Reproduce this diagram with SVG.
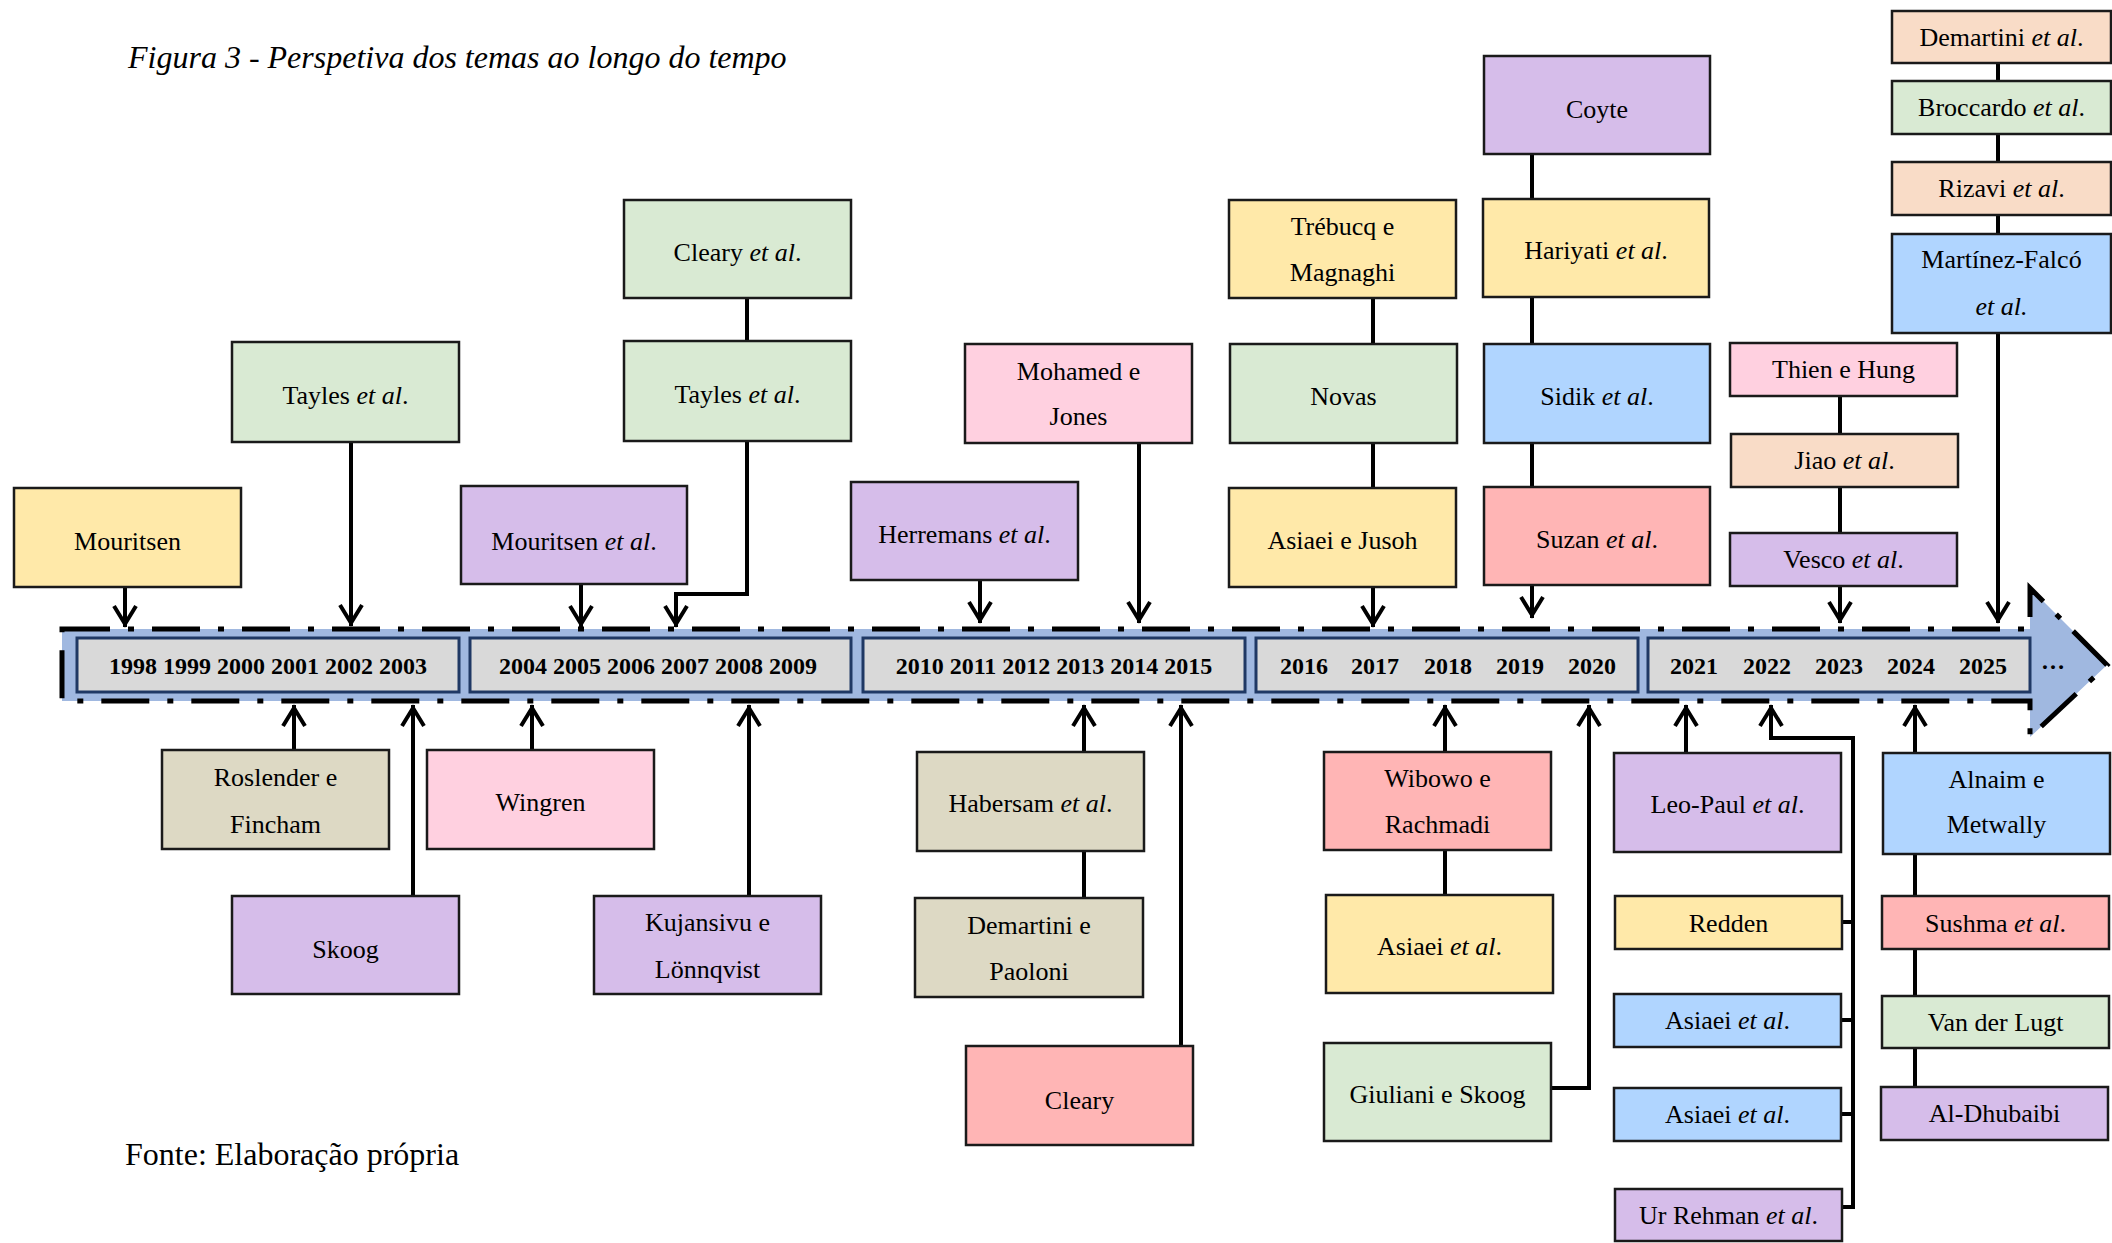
<svg xmlns="http://www.w3.org/2000/svg" width="2112" height="1243" viewBox="0 0 2112 1243">
<style>
.bx{stroke:#1a1a1a;stroke-width:2.5}
.y{fill:#ffe9a9}.g{fill:#d9ead3}.p{fill:#d6bdea}.k{fill:#ffd0e0}.b{fill:#b0d5ff}.r{fill:#ffb5b5}.o{fill:#f9dcc7}.e{fill:#ddd9c4}
text{font-family:"Liberation Serif","Times New Roman",serif;fill:#000}
.t{font-size:26px;text-anchor:middle}
.i{font-style:italic}
.yr{font-size:24px;font-weight:bold;text-anchor:middle}
.yb{fill:#d9d9d9;stroke:#1f3864;stroke-width:3}
.c{fill:none;stroke:#000;stroke-width:4}
.ca{fill:none;stroke:#000;stroke-width:4;marker-end:url(#arr)}
</style>
<defs>
<marker id="arr" viewBox="-24 -14 28 28" markerUnits="userSpaceOnUse" markerWidth="28" markerHeight="28" refX="0" refY="0" orient="auto">
<path d="M-21,-11 L-3,0 L-21,11" fill="none" stroke="#000" stroke-width="4"/>
</marker>
</defs>
<rect width="2112" height="1243" fill="#fff"/>
<text x="128" y="68" font-size="32" font-style="italic">Figura 3 - Perspetiva dos temas ao longo do tempo</text>
<text x="125" y="1165" font-size="32">Fonte: Elaboração própria</text>

<g id="timeline">
<path d="M62,629 H2030 V588 L2107,665 L2030,737 V701 H62 Z" fill="#a0b8e0" stroke="#000" stroke-width="5" stroke-dasharray="48 18 6 18"/>
<rect class="yb" x="77" y="638" width="382" height="54"/>
<rect class="yb" x="470" y="638" width="381" height="54"/>
<rect class="yb" x="863" y="638" width="382" height="54"/>
<rect class="yb" x="1256" y="638" width="382" height="54"/>
<rect class="yb" x="1648" y="638" width="382" height="54"/>
<text class="yr" x="268" y="674">1998 1999 2000 2001 2002 2003</text>
<text class="yr" x="658" y="674">2004 2005 2006 2007 2008 2009</text>
<text class="yr" x="1054" y="674">2010 2011 2012 2013 2014 2015</text>
<text class="yr" x="1304" y="674">2016</text>
<text class="yr" x="1375" y="674">2017</text>
<text class="yr" x="1448" y="674">2018</text>
<text class="yr" x="1520" y="674">2019</text>
<text class="yr" x="1592" y="674">2020</text>
<text class="yr" x="1694" y="674">2021</text>
<text class="yr" x="1767" y="674">2022</text>
<text class="yr" x="1839" y="674">2023</text>
<text class="yr" x="1911" y="674">2024</text>
<text class="yr" x="1983" y="674">2025</text>
<text class="yr" x="2053" y="669">…</text>
</g>

<g id="connectors">
<line class="ca" x1="125" y1="587" x2="125" y2="627"/>
<line class="ca" x1="351" y1="442" x2="351" y2="626"/>
<line class="c" x1="747" y1="298" x2="747" y2="341"/>
<path class="ca" d="M747,441 V594 H676 V627"/>
<line class="ca" x1="581" y1="584" x2="581" y2="627"/>
<line class="ca" x1="980" y1="580" x2="980" y2="623"/>
<line class="ca" x1="1139" y1="443" x2="1139" y2="623"/>
<line class="c" x1="1373" y1="298" x2="1373" y2="344"/>
<line class="c" x1="1373" y1="443" x2="1373" y2="488"/>
<line class="ca" x1="1373" y1="587" x2="1373" y2="627"/>
<line class="c" x1="1532" y1="154" x2="1532" y2="199"/>
<line class="c" x1="1532" y1="297" x2="1532" y2="344"/>
<line class="c" x1="1532" y1="443" x2="1532" y2="487"/>
<line class="ca" x1="1532" y1="585" x2="1532" y2="618"/>
<line class="c" x1="1998" y1="63" x2="1998" y2="81"/>
<line class="c" x1="1998" y1="134" x2="1998" y2="162"/>
<line class="c" x1="1998" y1="215" x2="1998" y2="234"/>
<line class="ca" x1="1998" y1="333" x2="1998" y2="623"/>
<line class="c" x1="1840" y1="396" x2="1840" y2="434"/>
<line class="c" x1="1840" y1="487" x2="1840" y2="533"/>
<line class="ca" x1="1840" y1="586" x2="1840" y2="623"/>

<line class="ca" x1="294" y1="750" x2="294" y2="705"/>
<line class="ca" x1="413" y1="896" x2="413" y2="705"/>
<line class="ca" x1="532" y1="750" x2="532" y2="705"/>
<line class="ca" x1="749" y1="896" x2="749" y2="705"/>
<line class="ca" x1="1084" y1="752" x2="1084" y2="705"/>
<line class="c" x1="1084" y1="851" x2="1084" y2="898"/>
<line class="ca" x1="1181" y1="1046" x2="1181" y2="705"/>
<line class="ca" x1="1445" y1="752" x2="1445" y2="705"/>
<line class="c" x1="1445" y1="850" x2="1445" y2="895"/>
<path class="ca" d="M1551,1088 H1589 V705"/>
<line class="ca" x1="1686" y1="753" x2="1686" y2="705"/>
<path class="ca" d="M1842,1207 H1853 V738 H1771 V705"/>
<line class="c" x1="1842" y1="922" x2="1853" y2="922"/>
<line class="c" x1="1841" y1="1020" x2="1853" y2="1020"/>
<line class="c" x1="1841" y1="1114" x2="1853" y2="1114"/>
<line class="ca" x1="1915" y1="753" x2="1915" y2="705"/>
<line class="c" x1="1915" y1="854" x2="1915" y2="896"/>
<line class="c" x1="1915" y1="949" x2="1915" y2="996"/>
<line class="c" x1="1915" y1="1048" x2="1915" y2="1087"/>
</g>

<g id="n-mouritsen"><rect class="bx y" x="14" y="488" width="227" height="99"/><text class="t" x="127.5" y="550">Mouritsen</text></g>
<g id="n-tayles1"><rect class="bx g" x="232" y="342" width="227" height="100"/><text class="t" x="345.5" y="404">Tayles <tspan class="i">et al</tspan>.</text></g>
<g id="n-cleary-etal"><rect class="bx g" x="624" y="200" width="227" height="98"/><text class="t" x="737.5" y="261">Cleary <tspan class="i">et al</tspan>.</text></g>
<g id="n-tayles2"><rect class="bx g" x="624" y="341" width="227" height="100"/><text class="t" x="737.5" y="403">Tayles <tspan class="i">et al</tspan>.</text></g>
<g id="n-mouritsen-etal"><rect class="bx p" x="461" y="486" width="226" height="98"/><text class="t" x="574" y="550">Mouritsen <tspan class="i">et al</tspan>.</text></g>
<g id="n-herremans"><rect class="bx p" x="851" y="482" width="227" height="98"/><text class="t" x="964.5" y="543">Herremans <tspan class="i">et al</tspan>.</text></g>
<g id="n-mohamed"><rect class="bx k" x="965" y="344" width="227" height="99"/><text class="t" x="1078.5" y="380">Mohamed e</text><text class="t" x="1078.5" y="425">Jones</text></g>
<g id="n-trebucq"><rect class="bx y" x="1229" y="200" width="227" height="98"/><text class="t" x="1342.5" y="235">Trébucq e</text><text class="t" x="1342.5" y="281">Magnaghi</text></g>
<g id="n-novas"><rect class="bx g" x="1230" y="344" width="227" height="99"/><text class="t" x="1343.5" y="405">Novas</text></g>
<g id="n-asiaei-jusoh"><rect class="bx y" x="1229" y="488" width="227" height="99"/><text class="t" x="1342.5" y="549">Asiaei e Jusoh</text></g>
<g id="n-coyte"><rect class="bx p" x="1484" y="56" width="226" height="98"/><text class="t" x="1597" y="118">Coyte</text></g>
<g id="n-hariyati"><rect class="bx y" x="1483" y="199" width="226" height="98"/><text class="t" x="1596" y="259">Hariyati <tspan class="i">et al</tspan>.</text></g>
<g id="n-sidik"><rect class="bx b" x="1484" y="344" width="226" height="99"/><text class="t" x="1597" y="405">Sidik <tspan class="i">et al</tspan>.</text></g>
<g id="n-suzan"><rect class="bx r" x="1484" y="487" width="226" height="98"/><text class="t" x="1597" y="548">Suzan <tspan class="i">et al</tspan>.</text></g>
<g id="n-demartini-etal"><rect class="bx o" x="1892" y="11" width="219" height="52"/><text class="t" x="2001.5" y="46">Demartini <tspan class="i">et al</tspan>.</text></g>
<g id="n-broccardo"><rect class="bx g" x="1892" y="81" width="219" height="53"/><text class="t" x="2001.5" y="116">Broccardo <tspan class="i">et al</tspan>.</text></g>
<g id="n-rizavi"><rect class="bx o" x="1892" y="162" width="219" height="53"/><text class="t" x="2001.5" y="197">Rizavi <tspan class="i">et al</tspan>.</text></g>
<g id="n-martinez"><rect class="bx b" x="1892" y="234" width="219" height="99"/><text class="t" x="2001.5" y="268">Martínez-Falcó</text><text class="t i" x="2001.5" y="315">et al.</text></g>
<g id="n-thien"><rect class="bx k" x="1730" y="343" width="227" height="53"/><text class="t" x="1843.5" y="378">Thien e Hung</text></g>
<g id="n-jiao"><rect class="bx o" x="1731" y="434" width="227" height="53"/><text class="t" x="1844.5" y="469">Jiao <tspan class="i">et al</tspan>.</text></g>
<g id="n-vesco"><rect class="bx p" x="1730" y="533" width="227" height="53"/><text class="t" x="1843.5" y="568">Vesco <tspan class="i">et al</tspan>.</text></g>

<g id="n-roslender"><rect class="bx e" x="162" y="750" width="227" height="99"/><text class="t" x="275.5" y="786">Roslender e</text><text class="t" x="275.5" y="833">Fincham</text></g>
<g id="n-wingren"><rect class="bx k" x="427" y="750" width="227" height="99"/><text class="t" x="540.5" y="811">Wingren</text></g>
<g id="n-skoog"><rect class="bx p" x="232" y="896" width="227" height="98"/><text class="t" x="345.5" y="958">Skoog</text></g>
<g id="n-kujansivu"><rect class="bx p" x="594" y="896" width="227" height="98"/><text class="t" x="707.5" y="931">Kujansivu e</text><text class="t" x="707.5" y="978">Lönnqvist</text></g>
<g id="n-habersam"><rect class="bx e" x="917" y="752" width="227" height="99"/><text class="t" x="1030.5" y="812">Habersam <tspan class="i">et al</tspan>.</text></g>
<g id="n-demartini-paoloni"><rect class="bx e" x="915" y="898" width="228" height="99"/><text class="t" x="1029" y="934">Demartini e</text><text class="t" x="1029" y="980">Paoloni</text></g>
<g id="n-cleary"><rect class="bx r" x="966" y="1046" width="227" height="99"/><text class="t" x="1079.5" y="1109">Cleary</text></g>
<g id="n-wibowo"><rect class="bx r" x="1324" y="752" width="227" height="98"/><text class="t" x="1437.5" y="787">Wibowo e</text><text class="t" x="1437.5" y="833">Rachmadi</text></g>
<g id="n-asiaei1"><rect class="bx y" x="1326" y="895" width="227" height="98"/><text class="t" x="1439.5" y="955">Asiaei <tspan class="i">et al</tspan>.</text></g>
<g id="n-giuliani"><rect class="bx g" x="1324" y="1043" width="227" height="98"/><text class="t" x="1437.5" y="1103">Giuliani e Skoog</text></g>
<g id="n-leopaul"><rect class="bx p" x="1614" y="753" width="227" height="99"/><text class="t" x="1727.5" y="813">Leo-Paul <tspan class="i">et al</tspan>.</text></g>
<g id="n-redden"><rect class="bx y" x="1615" y="896" width="227" height="53"/><text class="t" x="1728.5" y="932">Redden</text></g>
<g id="n-asiaei2"><rect class="bx b" x="1614" y="994" width="227" height="53"/><text class="t" x="1727.5" y="1029">Asiaei <tspan class="i">et al</tspan>.</text></g>
<g id="n-asiaei3"><rect class="bx b" x="1614" y="1088" width="227" height="53"/><text class="t" x="1727.5" y="1123">Asiaei <tspan class="i">et al</tspan>.</text></g>
<g id="n-urrehman"><rect class="bx p" x="1615" y="1189" width="227" height="52"/><text class="t" x="1728.5" y="1224">Ur Rehman <tspan class="i">et al</tspan>.</text></g>
<g id="n-alnaim"><rect class="bx b" x="1883" y="753" width="227" height="101"/><text class="t" x="1996.5" y="788">Alnaim e</text><text class="t" x="1996.5" y="833">Metwally</text></g>
<g id="n-sushma"><rect class="bx r" x="1882" y="896" width="227" height="53"/><text class="t" x="1995.5" y="932">Sushma <tspan class="i">et al</tspan>.</text></g>
<g id="n-vanderlugt"><rect class="bx g" x="1882" y="996" width="227" height="52"/><text class="t" x="1995.5" y="1031">Van der Lugt</text></g>
<g id="n-aldhubaibi"><rect class="bx p" x="1881" y="1087" width="227" height="53"/><text class="t" x="1994.5" y="1122">Al-Dhubaibi</text></g>
</svg>
